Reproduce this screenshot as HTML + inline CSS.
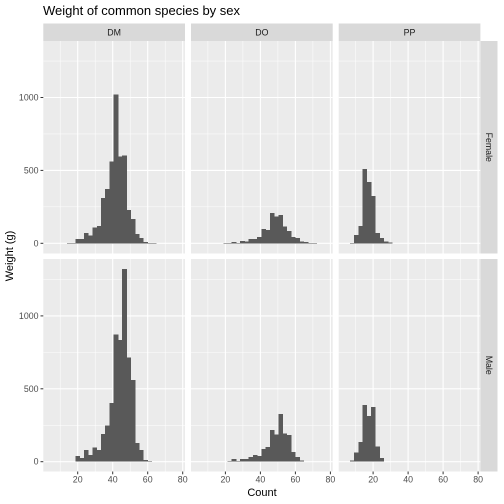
<!DOCTYPE html>
<html><head><meta charset="utf-8"><style>
html,body{margin:0;padding:0;background:#fff;width:504px;height:504px;overflow:hidden}
svg{display:block;font-family:"Liberation Sans",sans-serif}
</style></head><body>
<svg id="chart" width="504" height="504" viewBox="0 0 504 504">
<text x="43" y="15" font-size="13" fill="#000">Weight of common species by sex</text>
<text x="262" y="496" font-size="11" text-anchor="middle" fill="#000">Count</text>
<text x="0" y="0" font-size="11" text-anchor="middle" fill="#000" transform="translate(13,256) rotate(-90)">Weight (g)</text>
</svg>
<script>
const species = ["DM","DO","PP"];
const sexes = ["Female","Male"];
const binStart = 4.38;
const binWidth = 2.42;
const xTicks = [20,40,60,80];
const xMinor = [10,30,50,70];
const yTicks = [0,500,1000];
const yMinor = [250,750,1250];
const dmFemaleOffset = 4;
const dmFemale = [3,3,30,30,71,53,108,119,312,374,560,1020,594,601,229,167,64,37,9,3,2];
const dmMaleOffset = 5;
const dmMale = [2,39,27,80,46,96,80,190,249,402,874,833,1320,715,559,128,80,11,5];
const doFemaleOffset = 6;
const doFemale = [2,2,9,3,16,11,30,30,44,99,92,209,183,195,115,85,44,37,11,9,3,3];
const doMaleOffset = 7;
const doMale = [5,18,5,18,18,32,46,39,87,100,217,185,326,192,183,66,32,7];
const ppFemaleOffset = 1;
const ppFemale = [2,57,119,511,422,326,71,37,11,5];
const ppMaleOffset = 1;
const ppMale = [7,62,135,388,315,374,103,25];

const panelData = [
  [[dmFemale,dmFemaleOffset],[doFemale,doFemaleOffset],[ppFemale,ppFemaleOffset]],
  [[dmMale,dmMaleOffset],[doMale,doMaleOffset],[ppMale,ppMaleOffset]]
];
const NS="http://www.w3.org/2000/svg";
const svg=document.getElementById('chart');
function mk(tag,attrs,parent){const e=document.createElementNS(NS,tag);for(const k in attrs)e.setAttribute(k,attrs[k]);(parent||svg).appendChild(e);return e;}
const colX=[43.3,191,338.7], panelW=141.7;
const rowY=[41,259], panelH=212.5;
const xPerUnit=1.75, xZeroOff=-0.6;
const yZero=[243.3,461.7], yPerUnit=0.1458;
function xs(c,v){return colX[c]+xZeroOff+v*xPerUnit;}
function ys(r,v){return yZero[r]-v*yPerUnit;}

for(let c=0;c<3;c++){
  const st=mk('rect',{x:colX[c],y:23.5,width:panelW,height:17.5,fill:'#d9d9d9'});
  
  
  const t=mk('text',{x:colX[c]+panelW/2,y:35.5,'font-size':'8.8','text-anchor':'middle',fill:'#1a1a1a'});
  t.textContent=species[c];
  
  
}
for(let r=0;r<2;r++){
  const st=mk('rect',{x:480.5,y:rowY[r],width:17,height:panelH,fill:'#d9d9d9'});
  
  
  const cx=489, cy=rowY[r]+panelH/2;
  const t=mk('text',{x:cx,y:cy+3,'font-size':'8.8','text-anchor':'middle',fill:'#1a1a1a',transform:`rotate(90 ${cx} ${cy})`});
  t.textContent=sexes[r];
  
  
}
for(let r=0;r<2;r++){
  for(let c=0;c<3;c++){
    const g=mk('g',{});
    
    
    mk('rect',{x:colX[c],y:rowY[r],width:panelW,height:panelH,fill:'#ebebeb'},g);
    const x1=colX[c],x2=colX[c]+panelW,y1=rowY[r],y2=rowY[r]+panelH;
    xMinor.forEach(v=>mk('line',{x1:xs(c,v),x2:xs(c,v),y1,y2,stroke:'#fff','stroke-width':0.5},g));
    yMinor.forEach(v=>{const y=ys(r,v);if(y>y1)mk('line',{x1,x2,y1:y,y2:y,stroke:'#fff','stroke-width':0.5},g);});
    xTicks.forEach(v=>mk('line',{x1:xs(c,v),x2:xs(c,v),y1,y2,stroke:'#fff','stroke-width':1.1},g));
    yTicks.forEach(v=>mk('line',{x1,x2,y1:ys(r,v),y2:ys(r,v),stroke:'#fff','stroke-width':1.1},g));
    const [arr,off]=panelData[r][c];
    arr.forEach((n,i)=>{
      const lo=binStart+(off+i)*binWidth;
      const xa=xs(c,lo), xb=xs(c,lo+binWidth);
      const b=mk('rect',{x:xa-0.2,y:ys(r,n),width:xb-xa+0.4,height:ys(r,0)-ys(r,n),fill:'#595959','shape-rendering':'crispEdges'},g);
      
      
    });
  }
  yTicks.forEach(v=>{
    const y=ys(r,v);
    mk('line',{x1:40.5,x2:43.3,y1:y,y2:y,stroke:'#333','stroke-width':1});
    const t=mk('text',{x:38.5,y:y+3,'font-size':'8.8','text-anchor':'end',fill:'#4d4d4d'});
    t.textContent=v;
    
    
  });
}
for(let c=0;c<3;c++){
  xTicks.forEach(v=>{
    const x=xs(c,v);
    mk('line',{x1:x,x2:x,y1:471.5,y2:474.3,stroke:'#333','stroke-width':1});
    const t=mk('text',{x:x,y:482.5,'font-size':'8.8','text-anchor':'middle',fill:'#4d4d4d'});
    t.textContent=v;
    
    
  });
}
</script>
</body></html>
